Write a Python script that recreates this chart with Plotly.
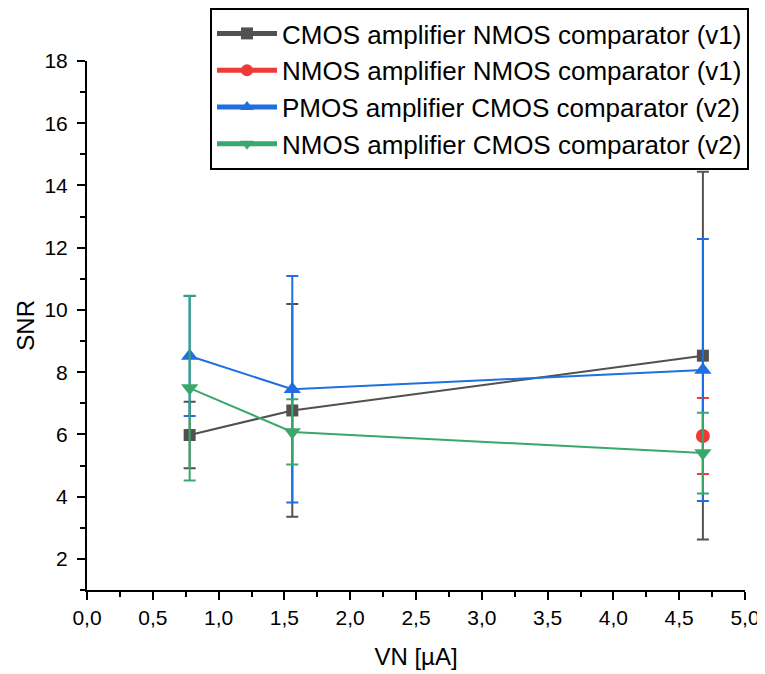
import plotly.graph_objects as go

x_vals = [0.78, 1.56, 4.68]
names = ["CMOS amplifier NMOS comparator (v1)",
         "NMOS amplifier NMOS comparator (v1)",
         "PMOS amplifier CMOS comparator (v2)",
         "NMOS amplifier CMOS comparator (v2)"]

cmos_nmos_y = [5.98, 6.77, 8.53]
cmos_nmos_err = [1.07, 3.42, 5.91]

nmos_nmos_x = [4.68]
nmos_nmos_y = [5.95]
nmos_nmos_err = [1.22]

pmos_cmos_y = [8.52, 7.45, 8.07]
pmos_cmos_err = [1.93, 3.64, 4.21]

nmos_cmos_y = [7.49, 6.08, 5.40]
nmos_cmos_err = [2.97, 1.05, 1.30]

colors = ["#515151", "#f03a3a", "#1f6fe0", "#3aa86a"]
symbols = ["square", "circle", "triangle-up", "triangle-down"]
marker_sizes = [12, 14, 15, 15]

series = [
    (x_vals, cmos_nmos_y, cmos_nmos_err),
    (nmos_nmos_x, nmos_nmos_y, nmos_nmos_err),
    (x_vals, pmos_cmos_y, pmos_cmos_err),
    (x_vals, nmos_cmos_y, nmos_cmos_err),
]

fig = go.Figure()
for (xs, ys, es), name, c, s, ms in zip(series, names, colors, symbols, marker_sizes):
    fig.add_trace(go.Scatter(
        x=xs, y=ys, name=name, mode="lines+markers",
        line=dict(color=c, width=2),
        marker=dict(symbol=s, size=ms, color=c),
        error_y=dict(type="data", array=es, visible=True, color=c,
                     thickness=2, width=6),
    ))

axis_common = dict(
    showline=True, linecolor="black", linewidth=2,
    ticks="outside", ticklen=8, tickwidth=2, tickcolor="black",
    showgrid=False, zeroline=False, mirror=False, automargin=True,
    tickfont=dict(family="Liberation Sans, Arial", size=21, color="black"),
    minor=dict(ticks="outside", ticklen=5, tickwidth=2, tickcolor="black"),
)

# page body has an 8px margin, so the figure is 8px smaller and offset
fig.update_layout(
    width=757, height=666,
    paper_bgcolor="white", plot_bgcolor="white",
    margin=dict(l=79, r=20, t=53, b=84, autoexpand=False),
    separators=",.",
    font=dict(family="Liberation Sans, Arial", color="black"),
    xaxis=dict(range=[0, 5], dtick=0.5, tick0=0, tickformat=".1f",
               title=dict(text="VN [µA]", font=dict(size=24), standoff=20),
               **axis_common),
    yaxis=dict(range=[1, 18], dtick=2, tick0=0, ticklabelstandoff=5,
               **axis_common),
    legend=dict(xref="container", yref="container",
                x=202 / 757, y=1.0, xanchor="left", yanchor="top",
                bordercolor="black", borderwidth=2, bgcolor="white",
                font=dict(size=26, color="black"), tracegroupgap=0,
                itemsizing="constant", itemwidth=60),
    annotations=[dict(text="SNR", xref="paper", yref="paper",
                      x=-0.094, y=0.5, xanchor="center", yanchor="middle",
                      textangle=-90, showarrow=False,
                      font=dict(size=24, color="black"))],
    showlegend=True,
)
fig.update_xaxes(minor=dict(dtick=0.25))
fig.update_yaxes(minor=dict(dtick=1))

fig.write_html("out.html")
